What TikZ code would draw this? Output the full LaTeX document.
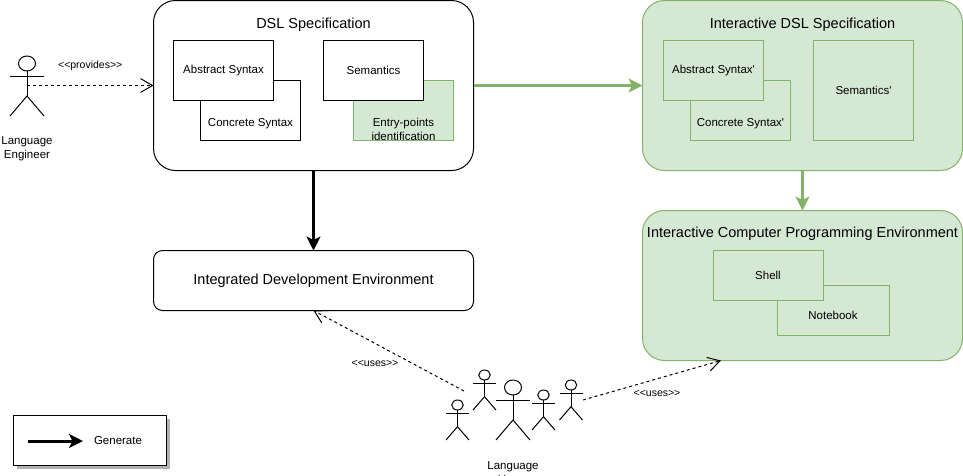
\documentclass[tikz,border=0pt]{standalone}
\usepackage{fontspec}
\usepackage{tikz}
\usetikzlibrary{arrows.meta,positioning,shadows}

\newfontfamily\dgfont{Liberation Sans}
\definecolor{gfill}{HTML}{D5E8D4}
\definecolor{gline}{HTML}{82B366}

\tikzset{
  title/.style={font=\dgfont\fontsize{14.5}{17}\selectfont},
  txt/.style={font=\dgfont\fontsize{11.5}{14}\selectfont, align=center},
  small/.style={font=\dgfont\fontsize{10.5}{12}\selectfont},
  group/.style={draw, fill=white, rounded corners=22pt, minimum width=320pt, minimum height=170pt},
  ggroup/.style={group, draw=gline, fill=gfill},
  part/.style={draw, fill=white, minimum width=100pt, minimum height=60pt, font=\dgfont\fontsize{11.5}{14}\selectfont, align=center},
  gpart/.style={part, draw=gline, fill=gfill},
  actorbox/.style={minimum width=34pt, minimum height=60pt},
  genarrow/.style={-{Stealth[length=14pt,width=14pt,inset=3.5pt]}, line width=3pt},
  usearrow/.style={-{Straight Barb[length=12pt,width=13pt,angle'=60]}, dashed, dash pattern=on 3pt off 3pt}
}

% actor: name, centre x, centre y, width, height
\newcommand{\actor}[5]{
  \node[actorbox, minimum width=#4pt, minimum height=#5pt] (#1) at (#2,#3) {};
  \draw (#1.north) ++(0,#5/8) circle [x radius=#4/4*1pt, y radius=#5/8*1pt];
  \draw (#1.north) ++(-#4/2,#5/3) -- ++(#4,0);
  \draw (#1.north) ++(0,#5/4) -- ++(0,#5*5/12);
  \draw (#1.south west) -- ++(#4/2,-#5/3) -- (#1.south east);
}

\begin{document}
\begin{tikzpicture}[x=1pt,y=-1pt,line width=1pt,inner sep=0pt,outer sep=0pt,on grid]
  \useasboundingbox (0,0) rectangle (963,475);

  % DSL specification
  \node[group] (dsl) at (313.5,85.5) {};
  \node[title, below=17pt of dsl.north] (dsl_t) {DSL Specification};
  \node[part] (cs) at (250.5,110.5) {};
  \node[txt, below=37.5pt of cs.north] (cs_t) {Concrete Syntax};
  \node[part] (as) at (223.5,70.5) {Abstract Syntax};
  \node[gpart] (ep) at (403.5,110.5) {};
  \node[txt, below=37.5pt of ep.north] (ep_t) {Entry-points\\identification};
  \node[part] (sem) at (373.5,70.5) {Semantics};

  % interactive DSL specification
  \node[ggroup] (idsl) at (802.5,85.5) {};
  \node[title, below=17pt of idsl.north] (idsl_t) {Interactive DSL Specification};
  \node[gpart] (cs_i) at (740.5,110.5) {};
  \node[txt, below=37.5pt of cs_i.north] (cs_i_t) {Concrete Syntax'};
  \node[gpart] (as_i) at (713.5,70.5) {Abstract Syntax'};
  \node[gpart, minimum height=100pt] (sem_i) at (863.5,90.5) {Semantics'};

  % interactive environment
  \node[ggroup, minimum height=150pt] (icpe) at (802.5,285.5) {};
  \node[title, below=16pt of icpe.north] (icpe_t) {Interactive Computer Programming Environment};
  \node[gpart, minimum width=112pt, minimum height=50pt] (nb) at (833,310.5) {};
  \node[txt, below=25.5pt of nb.north] (nb_t) {Notebook};
  \node[gpart, minimum width=110pt, minimum height=50pt] (sh) at (768,275.5) {Shell};

  % IDE
  \node[group, rounded corners=9pt, minimum height=60pt, title] (ide) at (313.5,280.5) {Integrated Development Environment};

  % actors
  \actor{eng}{27}{86}{34}{60}
  \node[txt, below=51pt of eng.center] (eng_t) {Language\\Engineer};
  \foreach \name/\x/\y in {usr_a/457.5/420, usr_b/484.5/390, usr_c/543.5/410, usr_d/571/400}
    {\actor{\name}{\x}{\y}{23}{40}}
  \actor{usr}{513}{410}{34}{60}
  \node[txt, below=52pt of usr.center] (usr_t) {Language\\Users};

  \coordinate (usr_l) at (464,391);
  \coordinate (usr_r) at (583,400);
  \coordinate (icpe_in) at (721,360.5);

  % legend
  \node[draw, fill=white, minimum width=153pt, minimum height=50pt,
    drop shadow={shadow xshift=3pt, shadow yshift=-3pt, fill=black!30, opacity=1}] (lgd) at (90,440.5) {};
  \coordinate (lgd_a) at (28,441);
  \coordinate (lgd_b) at (83,441);
  \node[txt] (lgd_t) at (118,441) {Generate};
  \draw[genarrow] (lgd_a) -- (lgd_b);

  \path[usearrow]
  (eng.center |- dsl.east) edge node[small, above=14.5pt] (prov) {<<provides>>} (dsl.west);
  \draw[usearrow] (usr_l) -- (ide.south);
  \draw[usearrow] (usr_r) -- (icpe_in);
  \node[small] (uses_l) at (375,363) {<<uses>>};
  \node[small] (uses_r) at (657,393) {<<uses>>};

  \path[genarrow]
  (dsl) edge[draw=black] (ide)
  (dsl.east) edge[draw=gline, gline] (idsl.west)
  (idsl.south) edge[draw=gline, gline] (icpe.north);
\end{tikzpicture}
\end{document}
